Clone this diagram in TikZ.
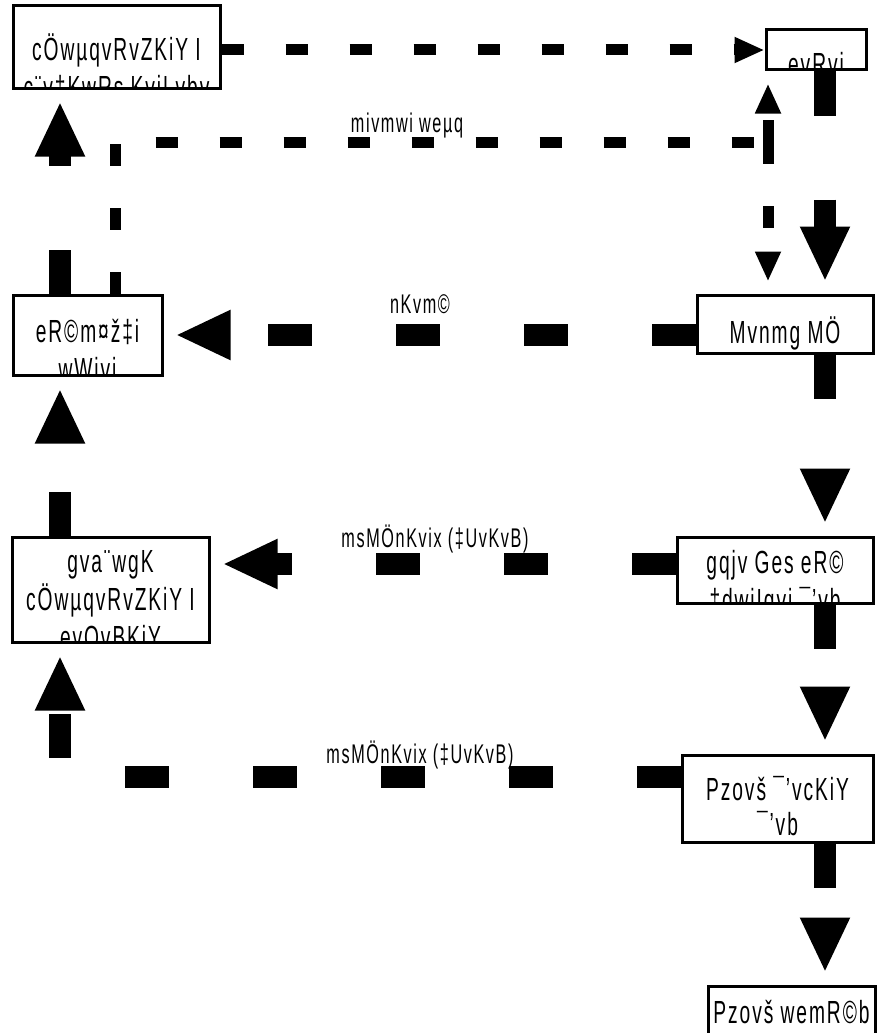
\documentclass[tikz,border=0pt]{standalone}
\usepackage{fontspec}
\setmainfont{Liberation Sans}[FakeStretch=0.6,LetterSpace=6]
\usetikzlibrary{arrows.meta,calc}

\tikzset{
box/.style={draw,line width=3pt,inner sep=0pt},
btxt/.style={anchor=base,inner sep=0pt,font=\fontsize{32}{38}\selectfont},
elbl/.style={anchor=base,inner sep=0pt,font=\fontsize{27}{32}\selectfont},
flow/.style={line width=22pt,dash pattern=on 44pt off 84pt,shorten >=12pt,-{Triangle[length=55pt,width=46pt]}},
sflow/.style={line width=11pt,dash pattern=on 22pt off 42pt,shorten >=12pt,-{Triangle[length=30pt,width=24pt]}},
sline/.style={line width=11pt,dash pattern=on 22pt off 42pt}
}
% one text line inside a box, clipped by the box border
\newcommand{\boxline}[2]{\node[btxt] at ($(path picture bounding box.north)+(0,-#1pt)$) {#2};}

\begin{document}
\begin{tikzpicture}[x=1pt,y=-1pt]
\useasboundingbox (0,0) rectangle (881,1033);
\coordinate (colL) at (60,0);
\coordinate (colM) at (115,0);
\coordinate (colR) at (825,0);
\coordinate (rowF) at (0,564);
\coordinate (rowG) at (0,777);
\coordinate (jn) at (768,142);
% boxes
\node[box,minimum width=207pt,minimum height=82pt,path picture={\boxline{54}{cÖwµqvRvZKiY I}\boxline{92}{c¨v‡KwRs KviLvbv}}] (fact) at (116.5,47) {};
\node[box,minimum width=100pt,minimum height=40pt,path picture={\boxline{45}{evRvi}}] (mkt) at (816,50) {};
\node[box,minimum width=176pt,minimum height=58pt,path picture={\boxline{48}{Mvnmg MÖ}}] (home) at (785,324) {};
\node[box,minimum width=149pt,minimum height=80pt,path picture={\boxline{47}{eR©m¤ž‡i}\boxline{85}{wWjvi}}] (deal) at (87.5,335) {};
\node[box,minimum width=197pt,minimum height=105pt,path picture={\boxline{35}{gva¨wgK}\boxline{73}{cÖwµqvRvZKiY I}\boxline{111}{evQvBKiY}}] (sort) at (110.5,589.5) {};
\node[box,minimum width=196pt,minimum height=66pt,path picture={\boxline{36}{gqjv Ges eR©}\boxline{74}{‡dwiIqvi ¯’vb}}] (dump) at (775,570) {};
\node[box,minimum width=191pt,minimum height=87pt,path picture={\boxline{45}{Pzovš ¯’vcKiY}\boxline{80}{¯’vb}}] (trans) at (777.5,798.5) {};
\node[box,minimum width=167pt,minimum height=59pt,path picture={\boxline{37}{Pzovš wemR©b}}] (fin) at (791.5,1015.5) {};
% connectors
\draw[sflow,shorten >=0pt] (fact.east |- mkt.west) -- (mkt.west);
\draw[flow] (mkt.south -| colR) -- (home.north -| colR);
\draw[flow] (home.west |- deal.east) -- (deal.east);
\node[elbl] (lhawk) at (420,313) {nKvm©};
\draw[flow] (deal.north -| colL) -- (fact.south -| colL);
\draw[sline] (deal.north -| colM) |- (jn);
\draw[sflow] (jn) -- (mkt.south -| jn);
\draw[sflow] (jn) -- (home.north -| jn);
\node[elbl] (ldirect) at (407,132) {mivmwi weµq};
\draw[flow] (sort.north -| colL) -- (deal.south -| colL);
\draw[flow] (home.south -| colR) -- (dump.north -| colR);
\draw[flow] (dump.west |- rowF) -- (sort.east |- rowF);
\node[elbl] (lcollA) at (435,547) {msMÖnKvix (‡UvKvB)};
\draw[flow] (dump.south -| colR) -- (trans.north -| colR);
\draw[flow] (trans.west |- rowG) -| (sort.south -| colL);
\node[elbl] (lcollB) at (420,763) {msMÖnKvix (‡UvKvB)};
\draw[flow] (trans.south -| colR) -- (fin.north -| colR);
\end{tikzpicture}
\end{document}
